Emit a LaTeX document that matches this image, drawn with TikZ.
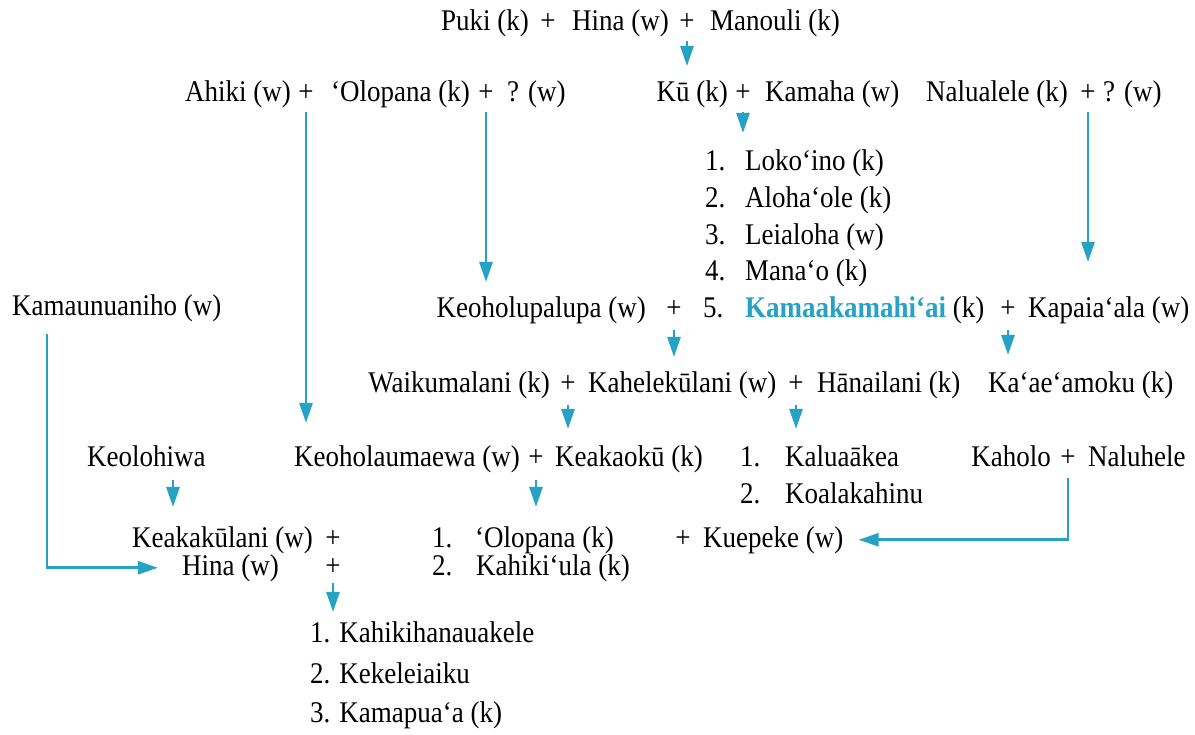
\documentclass[tikz,border=0pt]{standalone}
\usepackage{fontspec}
\setmainfont[FakeStretch=0.9]{Liberation Serif}
\usetikzlibrary{arrows.meta}
\definecolor{lineblue}{RGB}{38,162,196}
\begin{document}
\begin{tikzpicture}[x=1pt,y=-1pt,
  nm/.style={anchor=base west,inner sep=0pt,font=\fontsize{30}{36}\selectfont},
  nme/.style={nm,anchor=base east},
  pl/.style={anchor=base,inner sep=0pt,font=\fontsize{30}{36}\selectfont},
  arr/.style={draw=lineblue,line width=2.8pt,-{Triangle[width=13pt,length=20pt]}}]
\useasboundingbox (0,0) rectangle (1195,735);
% row 1
\node[nme] (puki) at (529,31) {Puki (k)};
\node[pl] (pa) at (548,31) {+};
\node[nme] (hina1) at (669,31) {Hina (w)};
\node[pl] (pb) at (687,31) {+};
\node[nm] (manouli) at (710,31) {Manouli (k)};
\coordinate (c1) at (687,66);
% row 2
\node[nme] (ahiki) at (291,102) {Ahiki (w)};
\node[pl] (pc) at (306,102) {+};
\node[nme] (olopana1) at (470,102) {‘Olopana (k)};
\node[pl] (pd) at (486,102) {+};
\node[nm] (q1) at (507,102) {? (w)};
\node[nme] (ku) at (728,102) {Kū (k)};
\node[pl] (pe) at (743,102) {+};
\node[nm] (kamaha) at (765,102) {Kamaha (w)};
\node[nme] (nalualele) at (1068,102) {Nalualele (k)};
\node[pl] (pf) at (1088,102) {+};
\node[nm] (q2) at (1103,102) {? (w)};
% list of Ku + Kamaha
\node[nm] (n1) at (705,171) {1.};
\node[nm] (loko) at (745,171) {Loko‘ino (k)};
\node[nm] (n2) at (705,208) {2.};
\node[nm] (aloha) at (745,208) {Aloha‘ole (k)};
\node[nm] (n3) at (705,245) {3.};
\node[nm] (leialoha) at (745,245) {Leialoha (w)};
\node[nm] (n4) at (705,281) {4.};
\node[nm] (manao) at (745,281) {Mana‘o (k)};
\node[nm] (n5) at (703,318) {5.};
\node[nm] (kamaaka) at (745,318) {{\bfseries\color{lineblue}Kamaakamahi‘ai} (k)};
% row b=318
\node[nm] (kamaun) at (12,316) {Kamaunuaniho (w)};
\node[nme] (keoholup) at (646,318) {Keoholupalupa (w)};
\node[pl] (pg) at (674,318) {+};
\node[pl] (ph) at (1008,318) {+};
\node[nm] (kapaia) at (1028,318) {Kapaia‘ala (w)};
% row b=393
\node[nme] (waiku) at (550,393) {Waikumalani (k)};
\node[pl] (pi) at (568,393) {+};
\node[nm] (kahele) at (588,393) {Kahelekūlani (w)};
\node[pl] (pj) at (796,393) {+};
\node[nm] (hanai) at (817,393) {Hānailani (k)};
\node[nm] (kaae) at (988,393) {Ka‘ae‘amoku (k)};
% row b=466
\node[nm] (keolohiwa) at (87,466) {Keolohiwa};
\node[nme] (keoholau) at (520,466) {Keoholaumaewa (w)};
\node[pl] (pk) at (536,466) {+};
\node[nm] (keakaoku) at (555,466) {Keakaokū (k)};
\node[nm] (m1) at (740,466) {1.};
\node[nm] (kalua) at (785,466) {Kaluaākea};
\node[nm] (m2) at (740,503) {2.};
\node[nm] (koala) at (785,503) {Koalakahinu};
\node[nme] (kaholo) at (1051,466) {Kaholo};
\node[pl] (pl2) at (1068,466) {+};
\node[nm] (naluhele) at (1088,466) {Naluhele};
% row b=547 / 575
\node[nme] (keakak) at (313,547) {Keakakūlani (w)};
\node[pl] (pm) at (333,547) {+};
\node[nme] (hina2) at (279,575) {Hina (w)};
\node[pl] (po) at (333,575) {+};
\node[nm] (o1) at (432,547) {1.};
\node[nm] (olopana2) at (475,547) {‘Olopana (k)};
\node[nm] (o2) at (432,575) {2.};
\node[nm] (kahikiula) at (476,575) {Kahiki‘ula (k)};
\node[pl] (pn) at (683,547) {+};
\node[nm] (kuepeke) at (703,547) {Kuepeke (w)};
% bottom list
\node[nm] (kh1) at (310,642) {1. Kahikihanauakele};
\node[nm] (kh2) at (310,683) {2. Kekeleiaiku};
\node[nm] (kh3) at (310,722) {3. Kamapua‘a (k)};
% connectors
\draw[arr] ([yshift=-10pt]pb.base) -- (c1);
\draw[arr,shorten >=17pt] ([yshift=-10pt]pe.base) -- (pe |- loko.north);
\draw[arr,shorten >=22pt] ([yshift=-10pt]pc.base) -- (pc |- keoholau.north);
\draw[arr,shorten >=15pt] ([yshift=-10pt]pd.base) -- (pd |- keoholup.north);
\draw[arr,shorten >=35pt] ([yshift=-10pt]pf.base) -- (pf |- kapaia.north);
\draw[arr,shorten >=15pt] ([yshift=-12pt]pg.base) -- (pg |- kahele.north);
\draw[arr,shorten >=17pt] ([yshift=-12pt]ph.base) -- (ph |- kaae.north);
\draw[arr,shorten >=16pt] ([yshift=-12pt]pi.base) -- (pi |- keakaoku.north);
\draw[arr,shorten >=16pt] ([yshift=-12pt]pj.base) -- (pj |- kalua.north);
\draw[arr,shorten >=19pt] ([yshift=-14pt]pk.base) -- (pk |- olopana2.north);
\coordinate (kw) at ([xshift=86pt]keolohiwa.base west);
\draw[arr,shorten >=19pt] ([yshift=-14pt]kw) -- (kw |- keakak.north);
\draw[arr,shorten >=9pt] ([yshift=-8pt]po.base) -- (po |- kh1.north);
\draw[arr,shorten >=24pt] ([xshift=35pt,yshift=-11pt]kamaun.south west) |- (hina2.west);
\draw[arr,shorten >=15pt] ([yshift=-12pt]pl2.base) |- (kuepeke.east);
\end{tikzpicture}
\end{document}
